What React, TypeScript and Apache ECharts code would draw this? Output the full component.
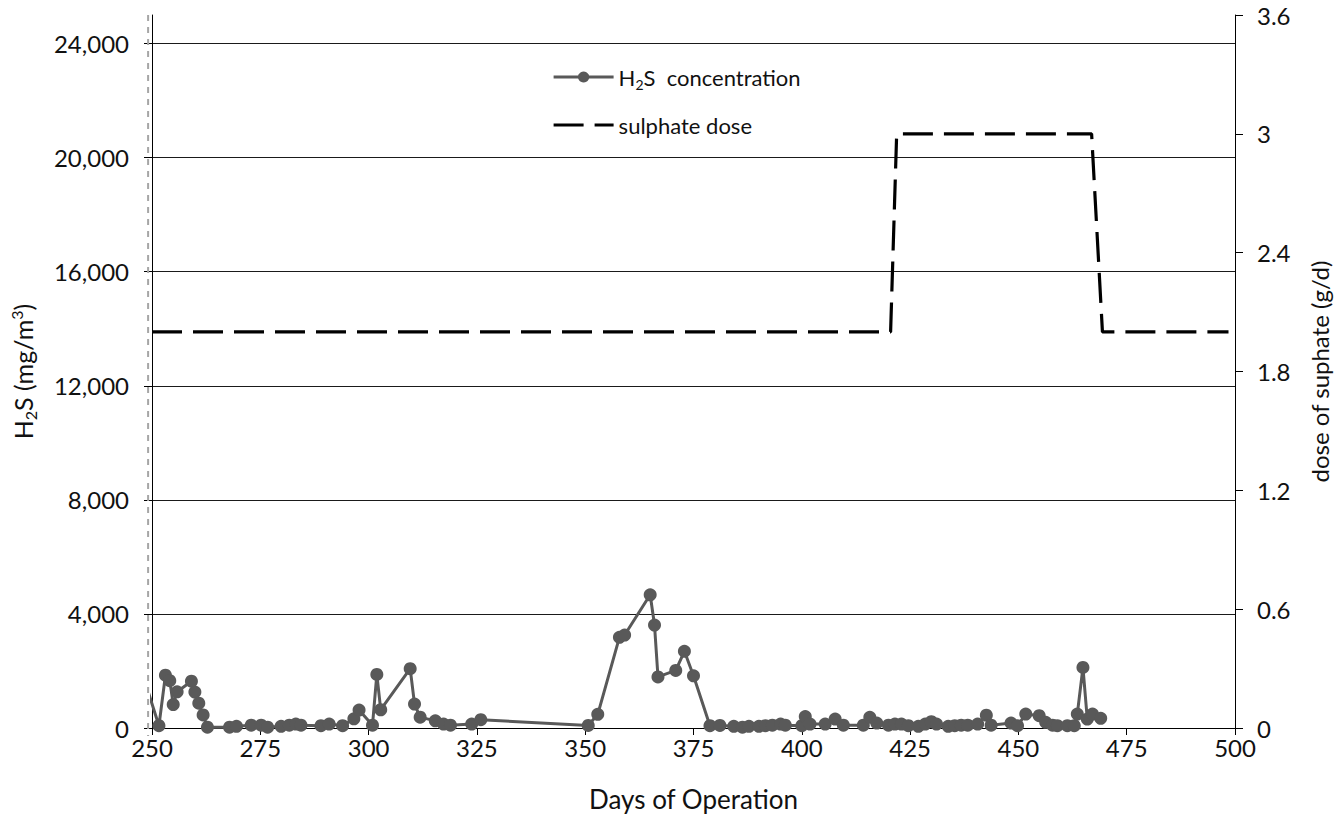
import React, { useEffect, useRef } from "react";
import * as echarts from "echarts";

// H2S concentration in the biogas (mg/m3) by day of operation
const h2sDays = [
  249, 251.6, 253.1, 254.1, 254.9, 255.8, 259.1, 259.9, 260.8, 261.8, 262.8,
  267.9, 269.5, 272.9, 275.2, 276.7, 279.8, 281.7, 283.2, 284.4, 289.0, 290.9,
  294.0, 296.6, 297.8, 300.9, 301.9, 302.8, 309.6, 310.6, 311.9, 315.4, 317.3,
  318.9, 323.8, 325.9, 350.7, 352.9, 357.9, 359.1, 365.0, 366.0, 366.8, 370.9,
  372.9, 375.0, 378.8, 381.1, 384.3, 386.3, 387.8, 390.1, 391.6, 393.2, 395.1,
  396.2, 400.0, 400.8, 401.9, 405.4, 407.7, 409.6, 414.2, 415.7, 417.3, 420.0,
  421.5, 423.0, 424.6, 426.9, 428.5, 429.9, 431.1, 433.8, 435.3, 436.8, 438.3,
  440.6, 442.6, 443.7, 448.3, 449.8, 451.7, 454.8, 456.3, 457.9, 459.0, 461.3,
  462.9, 463.6, 464.9, 465.9, 467.1, 469.0,
];
const h2sValues = [
  1330, 80, 1850, 1660, 820, 1270, 1640, 1260, 870, 460, 30,
  30, 60, 100, 100, 30, 60, 100, 140, 100, 80, 140,
  80, 320, 630, 100, 1880, 640, 2080, 840, 380, 250, 140,
  100, 140, 290, 90, 480, 3180, 3260, 4670, 3610, 1790, 2020,
  2690, 1830, 80, 90, 60, 30, 60, 60, 80, 100, 140,
  100, 80, 400, 140, 140, 315, 100, 100, 375, 175, 100,
  140, 140, 80, 60, 140, 220, 140, 60, 80, 100, 100,
  140, 450, 100, 175, 80, 490, 430, 200, 100, 80, 80,
  80, 490, 2125, 315, 490, 340,
];

// Sulphate dose (g/d)
const doseDays = [250, 420.5, 421.9, 466.9, 469.4, 498.5];
const doseValues = [2, 2, 3, 3, 2, 2];

// Axis ranges
const dayMin = 250;
const dayMax = 500;
const dayStep = 25;
const h2sMax = 25000;
const h2sStep = 4000;
const h2sTicks = [0, 4000, 8000, 12000, 16000, 20000, 24000];
const doseMax = 3.6;
const doseStep = 0.6;
const startMarkerDay = 249.1;

const FONT = "Lato";
const INK = "#111";

export default function App() {
  const ref = useRef<HTMLDivElement>(null);

  useEffect(() => {
    if (!ref.current) return;
    const chart = echarts.init(ref.current, undefined, { renderer: "svg" });

    const h2sData = h2sDays.map((d, i) => [d, h2sValues[i]]);
    const doseData = doseDays.map((d, i) => [d, doseValues[i]]);

    chart.setOption({
      animation: false,
      backgroundColor: "#fff",
      textStyle: { fontFamily: FONT },
      grid: { left: 147, right: 107, top: 15, bottom: 88, containLabel: false },
      legend: {
        orient: "vertical",
        left: 547,
        top: 58,
        itemWidth: 60,
        itemHeight: 14,
        itemGap: 20,
        selectedMode: false,
        formatter: (name: string) =>
          name === "H2S concentration" ? "{t|H}{sub|2}{t|S  concentration}" : "{t|" + name + "}",
        textStyle: {
          fontFamily: FONT,
          fontSize: 22,
          color: INK,
          lineHeight: 28,
          rich: {
            t: { fontFamily: FONT, fontSize: 22, color: INK, lineHeight: 28 },
            sub: { fontFamily: FONT, fontSize: 14, color: INK, lineHeight: 14, verticalAlign: "bottom" },
          },
        },
        data: [
          { name: "H2S concentration", lineStyle: { width: 3 } },
          { name: "sulphate dose", itemStyle: { opacity: 0 }, lineStyle: { width: 3.2 } },
        ],
      },
      xAxis: {
        type: "value",
        min: dayMin,
        max: dayMax,
        interval: dayStep,
        name: "Days of Operation",
        nameLocation: "middle",
        nameGap: 58,
        nameTextStyle: { fontFamily: FONT, fontSize: 26, color: INK },
        axisLine: { show: true, onZero: false, lineStyle: { color: "#000", width: 1 } },
        axisTick: { show: true, length: 7, lineStyle: { color: "#000" } },
        axisLabel: { fontFamily: FONT, fontSize: 24, color: INK, margin: 7 },
        splitLine: { show: false },
      },
      yAxis: [
        {
          type: "value",
          min: 0,
          max: h2sMax,
          interval: h2sStep,
          position: "left",
          name: "{t|H}{sub|2}{t|S (mg/m}{sup|3}{t|)}",
          nameLocation: "middle",
          nameGap: 114,
          nameTextStyle: {
            fontFamily: FONT,
            fontSize: 25,
            color: INK,
            lineHeight: 30,
            rich: {
              t: { fontFamily: FONT, fontSize: 25, color: INK, lineHeight: 30 },
              sub: { fontFamily: FONT, fontSize: 16, color: INK, lineHeight: 16, verticalAlign: "bottom" },
              sup: { fontFamily: FONT, fontSize: 16, color: INK, lineHeight: 16, verticalAlign: "top" },
            },
          },
          axisLine: { show: true, lineStyle: { color: "#000", width: 1 } },
          axisTick: { show: true, length: 8, customValues: h2sTicks, lineStyle: { color: "#000" } },
          axisLabel: {
            fontFamily: FONT,
            fontSize: 24,
            color: INK,
            margin: 23,
            showMaxLabel: false,
            formatter: (v: number) => (v > 24000 ? "" : v.toLocaleString("en-US")),
          },
          splitLine: { show: true, lineStyle: { color: "#1a1a1a", width: 1 } },
        },
        {
          type: "value",
          min: 0,
          max: doseMax,
          interval: doseStep,
          position: "right",
          name: "dose of suphate (g/d)",
          nameLocation: "middle",
          nameGap: 72,
          nameTextStyle: { fontFamily: FONT, fontSize: 24, color: INK },
          axisLine: { show: true, lineStyle: { color: "#000", width: 1 } },
          axisTick: { show: true, length: 8, lineStyle: { color: "#000" } },
          axisLabel: {
            fontFamily: FONT,
            fontSize: 24,
            color: INK,
            margin: 22,
            formatter: (v: number) => String(+v.toFixed(1)),
          },
          splitLine: { show: false },
        },
      ],
      series: [
        {
          name: "sulphate dose",
          type: "line",
          yAxisIndex: 1,
          data: doseData,
          showSymbol: false,
          symbol: "none",
          color: "#000",
          lineStyle: { color: "#000", width: 3.2, type: [30, 11] },
          z: 3,
        },
        {
          name: "H2S concentration",
          type: "line",
          yAxisIndex: 0,
          data: h2sData,
          symbol: "circle",
          symbolSize: 13,
          clip: true,
          color: "#595959",
          itemStyle: { color: "#595959" },
          lineStyle: { color: "#595959", width: 3 },
          z: 4,
        },
      ],
    });

    // Dashed grey marker just left of the start of the day axis,
    // extrapolated from the day scale
    const p0 = chart.convertToPixel({ xAxisIndex: 0 }, dayMin) as number;
    const p1 = chart.convertToPixel({ xAxisIndex: 0 }, dayMin + dayStep) as number;
    const px = p0 + ((startMarkerDay - dayMin) * (p1 - p0)) / dayStep;
    const top = chart.convertToPixel({ yAxisIndex: 0 }, h2sMax) as number;
    const bottom = chart.convertToPixel({ yAxisIndex: 0 }, 0) as number;
    chart.setOption({
      graphic: [
        {
          type: "line",
          silent: true,
          z: 1,
          shape: { x1: px, y1: top, x2: px, y2: bottom + 8 },
          style: { stroke: "#a6a6a6", lineWidth: 2, lineDash: [6, 6] },
        },
      ],
    });

    return () => chart.dispose();
  }, []);

  return (
    <div
      ref={ref}
      style={{ position: "fixed", left: 0, top: 0, width: 1342, height: 817, background: "#fff" }}
    />
  );
}
